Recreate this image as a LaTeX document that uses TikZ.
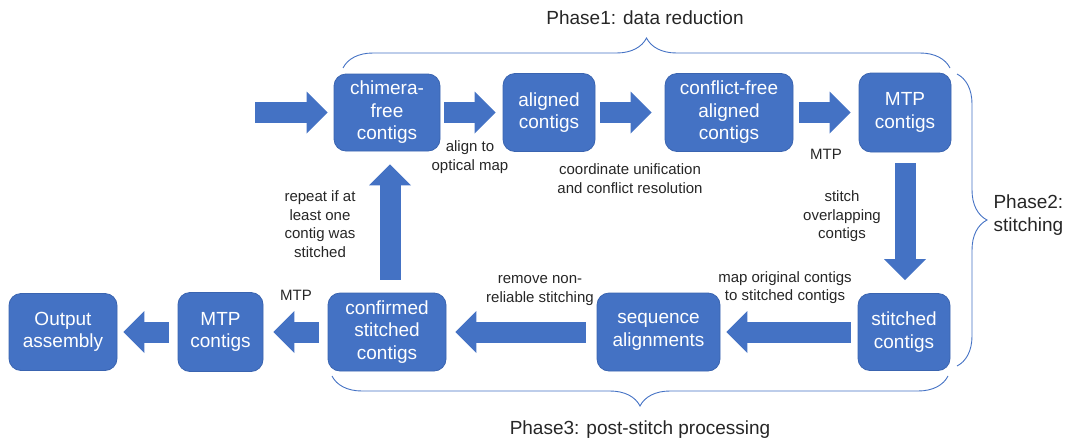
\documentclass[tikz,border=0pt]{standalone}
\usepackage{fontspec}
\setmainfont{Liberation Sans}
\usetikzlibrary{arrows.meta,decorations.pathreplacing}
\definecolor{boxblue}{HTML}{4472C4}
\definecolor{boxedge}{HTML}{3A64B0}
\definecolor{labelgray}{HTML}{262626}
\tikzset{
  stage/.style={rectangle, rounded corners=12pt, fill=boxblue, draw=boxedge, line width=0.8pt,
    text=white, align=center, font=\fontsize{19}{22.5}\selectfont, inner sep=0pt},
  bigarrow/.style={boxblue, line width=21pt, -{Triangle[length=21pt,width=42pt,line width=0pt]}},
  note/.style={text=labelgray, align=center, font=\fontsize{15}{18.5}\selectfont},
  phase/.style={text=labelgray, align=left, font=\fontsize{19}{23}\selectfont},
  phasebrace/.style={boxblue, line width=0.9pt, decorate, decoration={brace, amplitude=30pt}}
}

\begin{document}
\begin{tikzpicture}[x=1pt,y=-1pt]
\useasboundingbox (0,0) rectangle (1067,442);

% top row: phase 1
\node[stage, minimum width=106pt, minimum height=77pt] (chim) at (387,112.5) {chimera-\\free\\contigs};
\node[stage, minimum width=92pt, minimum height=78pt] (alig) at (549,112.5) {aligned\\contigs};
\node[stage, minimum width=128pt, minimum height=78pt] (conf) at (729,112.5) {conflict-free\\aligned\\contigs};
\node[stage, minimum width=92pt, minimum height=79pt] (mtpa) at (905,112.5) {MTP\\contigs};

% bottom row: phases 2 and 3
\node[stage, minimum width=92pt, minimum height=77pt] (stit) at (904,332) {stitched\\contigs};
\node[stage, minimum width=123pt, minimum height=78pt] (sequ) at (658.5,332) {sequence\\alignments};
\node[stage, minimum width=118pt, minimum height=78pt] (cnfm) at (387,332) {confirmed\\stitched\\contigs};
\node[stage, minimum width=85pt, minimum height=79pt] (mtpb) at (220.5,332) {MTP\\contigs};
\node[stage, minimum width=108pt, minimum height=77pt] (outp) at (63,332) {Output\\assembly};

% block arrows
\coordinate (start) at (255,112.5);
\draw[bigarrow, shorten >=6pt] (start) -- (chim.west);
\draw[bigarrow, shorten <=4pt, shorten >=7pt] (chim.east) -- (alig.west);
\draw[bigarrow, shorten <=5pt, shorten >=13pt] (alig.east) -- (conf.west);
\draw[bigarrow, shorten <=6pt, shorten >=8pt] (conf.east) -- (mtpa.west);
\draw[bigarrow, shorten <=11pt, shorten >=13pt] (mtpa.south) -- (stit.north -| mtpa.south);
\draw[bigarrow, shorten <=7pt, shorten >=6pt] (stit.west) -- (sequ.east);
\draw[bigarrow, shorten <=11pt, shorten >=9pt] (sequ.west) -- (cnfm.east);
\draw[bigarrow, shorten <=9pt, shorten >=10pt] (cnfm.west) -- (mtpb.east);
\draw[bigarrow, shorten <=9pt, shorten >=6pt] (mtpb.west) -- (outp.east);
\draw[bigarrow, shorten <=13pt, shorten >=13pt] ([xshift=3pt]cnfm.north) -- ([xshift=3pt]chim.south);

% arrow labels
\node[note] (l1) at (470,157) {align to\\optical map};
\node[note] (l2) at (630,178.5) {coordinate unification\\and conflict resolution};
\node[note] (l3) at (826,154) {MTP};
\node[note] (l4) at (842,216.5) {stitch\\overlapping\\contigs};
\node[note] (l5) at (785,287.5) {map original contigs\\to stitched contigs};
\node[note] (l6) at (540,290.5) {remove non-\\reliable stitching};
\node[note] (l7) at (296,295) {MTP};
\node[note] (l8) at (320,224) {repeat if at\\least one\\contig was\\stitched};

% phase braces
\draw[phasebrace] (343,68) -- (950,68);
\draw[phasebrace] (957,74) -- (957,366);
\draw[phasebrace] (948,376) -- (332,376);
\node[phase] (p1) at (645,18) {Phase1: data reduction};
\node[phase, anchor=west] (p2) at (990,215) {Phase2:\\stitching};
\node[phase] (p3) at (640,430) {Phase3: post-stitch processing};
\end{tikzpicture}
\end{document}
